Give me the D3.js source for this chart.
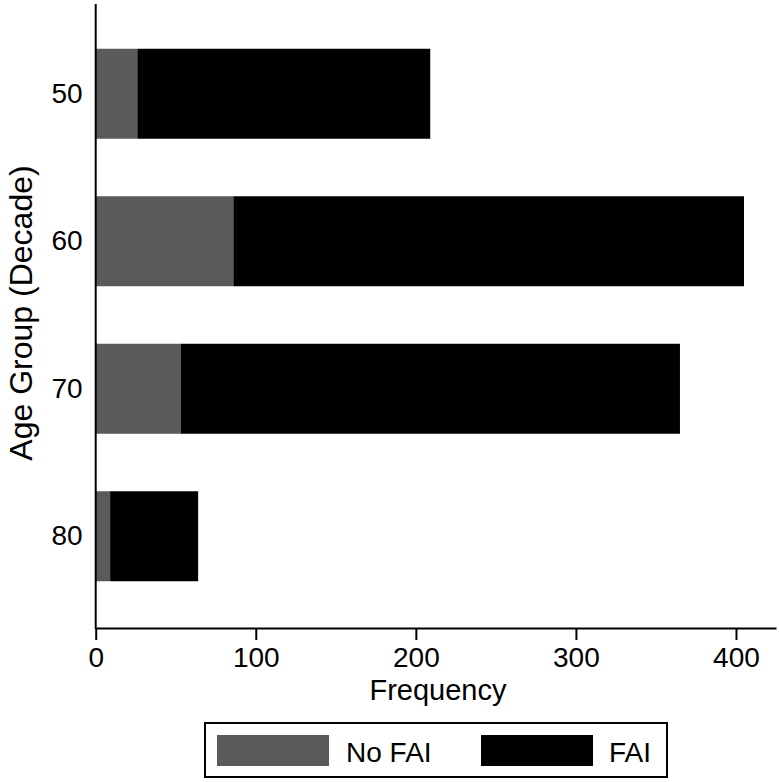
<!DOCTYPE html>
<html>
<head>
<meta charset="utf-8">
<script src="https://cdn.jsdelivr.net/npm/d3@7"></script>
<style>
  html, body { margin: 0; padding: 0; background: #fff; }
  svg { display: block; font-family: "Liberation Sans", Arial, Helvetica, sans-serif; }
</style>
</head>
<body>
<svg id="chart" width="779" height="782"></svg>
<script>
// Data
const categories = ["50", "60", "70", "80"];
const noFAI = [26, 86, 53, 9];
const fai = [183, 319, 312, 55];
const seriesNames = ["No FAI", "FAI"];
const seriesColors = ["#5a5a5a", "#000000"];
const xTicks = [0, 100, 200, 300, 400];

const svg = d3.select("#chart");

const x = d3.scaleLinear().domain([0, 425]).range([95.7, 776]);
const y = d3.scaleBand().domain(categories).range([20, 610])
  .paddingInner(0.39).paddingOuter(0.195);

const rows = categories.map((c, i) => ({ cat: c, "No FAI": noFAI[i], "FAI": fai[i] }));
const stack = d3.stack().keys(seriesNames)(rows);

svg.append("g").selectAll("g").data(stack).join("g")
  .attr("fill", (d, i) => seriesColors[i])
  .selectAll("rect").data(d => d).join("rect")
  .attr("x", d => x(d[0]))
  .attr("width", d => x(d[1]) - x(d[0]))
  .attr("y", d => y(d.data.cat))
  .attr("height", y.bandwidth());

// X axis
const xAxis = svg.append("g").attr("transform", "translate(0,628)")
  .call(d3.axisBottom(x).tickValues(xTicks).tickSize(12).tickPadding(7).tickSizeOuter(0));
xAxis.select(".domain").attr("stroke", "#000").attr("stroke-width", 2);
xAxis.selectAll(".tick line").attr("stroke", "#000").attr("stroke-width", 2);
xAxis.selectAll(".tick text").attr("font-size", 28).attr("fill", "#000")
  .attr("font-family", "Liberation Sans, Arial, sans-serif");

// Y axis
const yAxis = svg.append("g").attr("transform", "translate(95.7,0)")
  .call(d3.axisLeft(y).tickSize(0).tickPadding(13));
yAxis.select(".domain").attr("d", "M0,4V629").attr("stroke", "#000").attr("stroke-width", 2);
yAxis.selectAll(".tick text").attr("font-size", 28).attr("fill", "#000")
  .attr("font-family", "Liberation Sans, Arial, sans-serif");

// Axis titles
svg.append("text").attr("x", 438).attr("y", 700).attr("text-anchor", "middle")
  .attr("font-size", 29).attr("fill", "#000").text("Frequency");
svg.append("text").attr("transform", "translate(32,313) rotate(-90)").attr("text-anchor", "middle")
  .attr("font-size", 32).attr("fill", "#000").text("Age Group (Decade)");

// Legend
const lg = svg.append("g");
lg.append("rect").attr("x", 205).attr("y", 723).attr("width", 462).attr("height", 54)
  .attr("fill", "#fff").attr("stroke", "#000").attr("stroke-width", 2);
const legendItems = [
  { name: seriesNames[0], color: seriesColors[0], sx: 217, tx: 346 },
  { name: seriesNames[1], color: seriesColors[1], sx: 481, tx: 609 }
];
legendItems.forEach(it => {
  lg.append("rect").attr("x", it.sx).attr("y", 735).attr("width", 112).attr("height", 31).attr("fill", it.color);
  lg.append("text").attr("x", it.tx).attr("y", 762).attr("font-size", 28).attr("fill", "#000").text(it.name);
});
</script>
</body>
</html>
